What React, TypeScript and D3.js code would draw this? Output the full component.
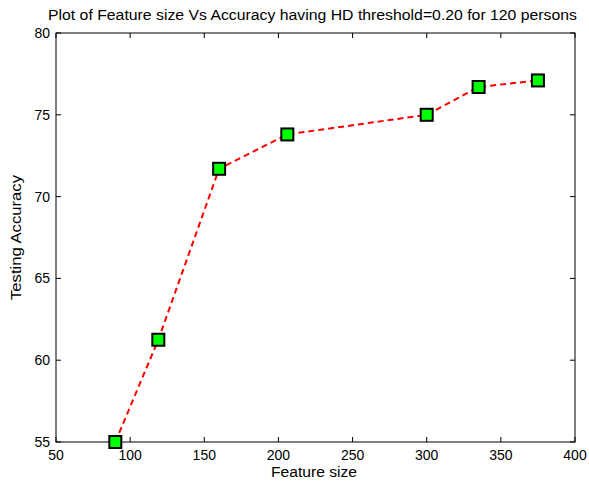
import React from "react";
import * as d3 from "d3";

const featureSize = [90, 119, 160, 206, 300, 335, 375];
const accuracy = [55, 61.25, 71.7, 73.8, 75.0, 76.7, 77.1];
const xTicks = [50, 100, 150, 200, 250, 300, 350, 400];
const yTicks = [55, 60, 65, 70, 75, 80];
const titleText = "Plot of Feature size Vs Accuracy having HD threshold=0.20 for 120 persons";
const xLabel = "Feature size";
const yLabel = "Testing Accuracy";

const W = 589, H = 483;
const L = 56, R = 575, T = 33, B = 442;

export default function App() {
  const x = d3.scaleLinear().domain([50, 400]).range([L, R]);
  const y = d3.scaleLinear().domain([55, 80]).range([B, T]);
  const pts = featureSize.map((f, i) => [x(f), y(accuracy[i])] as [number, number]);
  const line = d3.line()(pts) || "";
  const font = "'Liberation Sans', Arial, sans-serif";
  const tl = 5;
  return (
    <svg width={W} height={H} style={{ position: "absolute", left: 0, top: 0 }} fontFamily={font}>
      <rect x={0} y={0} width={W} height={H} fill="#fff" />
      <text x={48} y={20} fontSize={14} textLength={529} lengthAdjust="spacingAndGlyphs">{titleText}</text>
      <rect x={L} y={T} width={R - L} height={B - T} fill="none" stroke="#000" strokeWidth={1} />
      {xTicks.map((t) => (
        <g key={"x" + t}>
          <line x1={x(t)} x2={x(t)} y1={B} y2={B - tl} stroke="#000" />
          <line x1={x(t)} x2={x(t)} y1={T} y2={T + tl} stroke="#000" />
          <text x={x(t)} y={B + 18} textAnchor="middle" fontSize={14}>{t}</text>
        </g>
      ))}
      {yTicks.map((t) => (
        <g key={"y" + t}>
          <line x1={L} x2={L + tl} y1={y(t)} y2={y(t)} stroke="#000" />
          <line x1={R} x2={R - tl} y1={y(t)} y2={y(t)} stroke="#000" />
          <text x={L - 6} y={y(t) + 5} textAnchor="end" fontSize={14}>{t}</text>
        </g>
      ))}
      <text x={271} y={477} fontSize={14} textLength={86} lengthAdjust="spacingAndGlyphs">{xLabel}</text>
      <text transform={`translate(21,300) rotate(-90)`} fontSize={14} textLength={125} lengthAdjust="spacingAndGlyphs">{yLabel}</text>
      <path d={line} fill="none" stroke="#ff0000" strokeWidth={2} strokeDasharray="6,4" />
      {pts.map(([px, py], i) => (
        <rect key={i} x={px - 6} y={py - 6} width={12} height={12} fill="#00ff00" stroke="#000" strokeWidth={2} />
      ))}
    </svg>
  );
}
